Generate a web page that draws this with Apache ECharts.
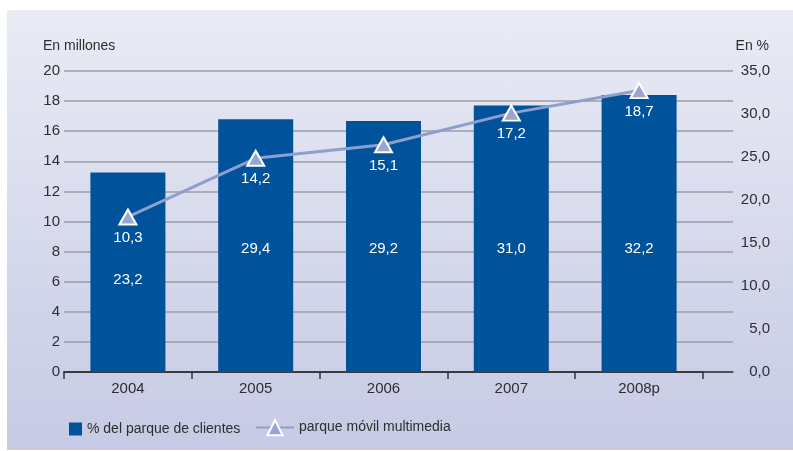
<!DOCTYPE html>
<html>
<head>
<meta charset="utf-8">
<script src="https://cdn.jsdelivr.net/npm/echarts@6/dist/echarts.min.js"></script>
<style>
  html, body { margin: 0; padding: 0; background: #fff; }
  #wrap { position: relative; width: 793px; height: 451px; }
  #panel {
    position: absolute; left: 7px; top: 10px; width: 786px; height: 440px;
    background: linear-gradient(to bottom, #e9ebf5 0%, #c6cae4 100%);
  }
  #chart { position: absolute; left: 0; top: 0; width: 793px; height: 451px; }
</style>
</head>
<body>
<div id="wrap">
  <div id="panel"></div>
  <div id="chart"></div>
</div>
<script>
// datos
const years = ['2004', '2005', '2006', '2007', '2008p'];
const pctClientes = [23.2, 29.4, 29.2, 31.0, 32.2];      // % del parque de clientes (eje dcho)
const parqueMultimedia = [10.3, 14.2, 15.1, 17.2, 18.7];  // en millones (eje izdo)

const fmt = v => v.toFixed(1).replace('.', ',');
const FONT = "'Liberation Sans', Arial, sans-serif";
const TXT = '#2e2e2e';

const chart = echarts.init(document.getElementById('chart'));

chart.setOption({
  backgroundColor: 'transparent',
  textStyle: { fontFamily: FONT },
  animation: false,
  grid: [
    { left: 64, right: 90, top: 71, bottom: 79 },  // categorias
    { left: 64, right: 60, top: 71, bottom: 79 }   // rejilla completa
  ],
  graphic: [
    { type: 'text', left: 43, top: 39, style: { text: 'En millones', fontSize: 14, fill: TXT, fontFamily: FONT } },
    { type: 'text', right: 24, top: 39, style: { text: 'En %', fontSize: 14, fill: TXT, fontFamily: FONT } }
  ],
  legend: [
    {
      left: 64, top: 417,
      itemWidth: 13, itemHeight: 13,
      data: [{ name: '% del parque de clientes', icon: 'rect' }],
      textStyle: { fontSize: 14, color: TXT, fontFamily: FONT }
    },
    {
      left: 250, top: 414,
      itemWidth: 38, itemHeight: 19,
      itemGap: 6,
      data: ['parque móvil multimedia'],
      textStyle: { fontSize: 14, color: TXT, fontFamily: FONT }
    }
  ],
  xAxis: [
    {
      gridIndex: 0, type: 'category', data: years,
      axisLine: { show: true, lineStyle: { color: '#333', width: 1.5 } },
      axisTick: { show: true, length: 7, lineStyle: { color: '#333', width: 1.5 } },
      axisLabel: { fontSize: 15, color: TXT, margin: 9 }
    },
    {
      gridIndex: 1, type: 'value', min: 0, max: 1,
      axisLine: { show: true, onZero: false, lineStyle: { color: '#333', width: 1.5 } },
      axisTick: { show: false }, axisLabel: { show: false }, splitLine: { show: false }
    }
  ],
  yAxis: [
    {
      gridIndex: 1, type: 'value', min: 0, max: 20, interval: 2, position: 'left',
      axisLine: { show: false }, axisTick: { show: false },
      axisLabel: { fontSize: 15, color: TXT, margin: 4 },
      splitLine: { lineStyle: { color: '#9b9ca4', width: 1.5 } }
    },
    {
      gridIndex: 1, type: 'value', min: 0, max: 35, interval: 5, position: 'right',
      axisLine: { show: false }, axisTick: { show: false },
      axisLabel: { fontSize: 15, color: TXT, margin: 37, align: 'right', formatter: fmt },
      splitLine: { show: false }
    },
    { gridIndex: 0, type: 'value', min: 0, max: 20, show: false },
    { gridIndex: 0, type: 'value', min: 0, max: 35, show: false }
  ],
  series: [
    {
      name: '% del parque de clientes',
      type: 'bar',
      xAxisIndex: 0, yAxisIndex: 3,
      barWidth: 75,
      itemStyle: { color: '#00529b' },
      label: {
        show: true, position: 'insideBottom', distance: 116,
        color: '#fff', fontSize: 15, formatter: p => fmt(p.value)
      },
      data: pctClientes.map((v, i) => i === 0 ? { value: v, label: { distance: 85 } } : v),
      z: 2
    },
    {
      name: 'parque móvil multimedia',
      type: 'line',
      xAxisIndex: 0, yAxisIndex: 2,
      symbol: 'triangle', symbolSize: [17, 15],
      lineStyle: { color: '#8e9ecd', width: 3 },
      itemStyle: { color: '#98a6d2', borderColor: '#fff', borderWidth: 2 },
      label: {
        show: true, position: 'bottom', distance: 5,
        color: '#fff', fontSize: 15, formatter: p => fmt(p.value)
      },
      data: parqueMultimedia,
      z: 5
    }
  ]
});
</script>
</body>
</html>
